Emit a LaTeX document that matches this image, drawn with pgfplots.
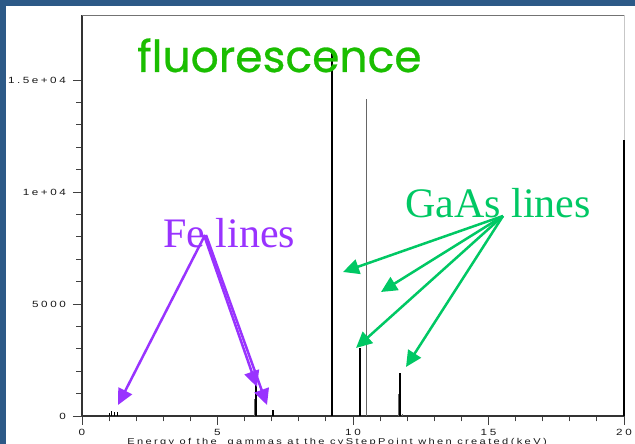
\documentclass[border=0pt]{standalone}
\usepackage{pgfplots}
\pgfplotsset{compat=1.18}
\usepackage{fontspec}
\usetikzlibrary{arrows.meta}
\setmainfont{Liberation Serif}
\newfontfamily\tickfont{Liberation Sans}[FakeStretch=1.3, LetterSpace=28]
\newfontfamily\handfont{Poppins}[FakeBold=0.6]
\definecolor{frameblue}{RGB}{44,89,135}
\definecolor{fluogreen}{RGB}{26,190,0}
\definecolor{linegreen}{RGB}{0,200,100}
\definecolor{fepurple}{RGB}{153,51,255}

\begin{document}
\begin{tikzpicture}[x=1pt,y=1pt]
\useasboundingbox (0,0) rectangle (635,444);
\clip (0,0) rectangle (635,444);
\fill[white] (0,0) rectangle (635,444);
\fill[frameblue] (0,0) rectangle (6,444);
\fill[frameblue] (0,438) rectangle (635,444);

\begin{axis}[
  at={(82pt,28pt)}, anchor=south west,
  scale only axis, width=542pt, height=401pt,
  xmin=0, xmax=20, ymin=0, ymax=17900,
  clip=false,
  scaled y ticks=false, scaled x ticks=false,
  axis line style={draw=none},
  xtick={0,5,10,15,20}, minor x tick num=4,
  ytick={0,5000,10000,15000}, minor y tick num=4,
  xtick pos=bottom, ytick pos=left,
  tick align=outside,
  major tick length=9pt, minor tick length=5.5pt,
  every tick/.style={color=black!75, line width=0.9pt},
  xticklabels={0,5,10,15,20},
  yticklabels={0,5000,1e+04,1.5e+04},
  ticklabel style={font=\tickfont\fontsize{9}{9}\selectfont, text=black!90, inner sep=0pt},
  xticklabel style={anchor=north, yshift=-4.5pt},
  yticklabel style={anchor=east, xshift=-7pt},
  xlabel={Energy of the\ \ gammas at the cyStepPoint when created(keV)},
  xlabel style={at={(rel axis cs:0.4705,0)}, anchor=north, yshift=-22.5pt, inner sep=0pt,
    font=\tickfont\fontsize{8.5}{8.5}\selectfont, text=black!90},
]
% axis frame: dark left/bottom, grey top, pale right
\draw[black!80, line width=1.2pt] (rel axis cs:0,0) -- (rel axis cs:0,1);
\draw[black!80, line width=1.2pt] (rel axis cs:0,0) -- (rel axis cs:1,0);
\draw[black!55, line width=0.9pt] (rel axis cs:0,1) -- (rel axis cs:1,1);
\draw[black!22, line width=0.9pt] (rel axis cs:1,0) -- (rel axis cs:1,1);

% L lines around 1 keV
\addplot[ycomb, black, line width=1pt, mark=none] coordinates {
  (1.00,150) (1.10,230) (1.20,200) (1.30,170)
};
% weaker companion lines
\addplot[ycomb, black!60, line width=0.8pt, mark=none] coordinates {
  (6.35,760) (10.50,14150) (11.66,980) (11.83,100)
};
% main K lines
\addplot[ycomb, black, line width=2pt, mark=none] coordinates {
  (6.42,1470) (7.04,270) (9.23,16230) (10.26,3030) (11.73,1920) (20.00,12300)
};
\end{axis}

% annotations
\node[anchor=base west, inner sep=0pt, text=fluogreen, font=\handfont\fontsize{44}{44}\selectfont]
  at (137,372) {fluorescence};
\node[anchor=base west, inner sep=0pt, text=linegreen, font=\fontsize{42}{42}\selectfont]
  at (405,226) {GaAs lines};
\node[anchor=base west, inner sep=0pt, text=fepurple, font=\fontsize{42}{42}\selectfont]
  at (163,196) {Fe lines};

\begin{scope}[line width=2.5pt, -{Triangle[length=16pt,width=15pt]}]
  \draw[fepurple] (205,209) -- (118,39);
  \draw[fepurple] (204,209) -- (257,57);
  \draw[fepurple] (206,209) -- (267,39);
  \draw[linegreen] (503,228) -- (343,172);
  \draw[linegreen] (503,228) -- (381,152);
  \draw[linegreen] (503,228) -- (356,96);
  \draw[linegreen] (503,228) -- (406,77);
\end{scope}
\end{tikzpicture}
\end{document}
